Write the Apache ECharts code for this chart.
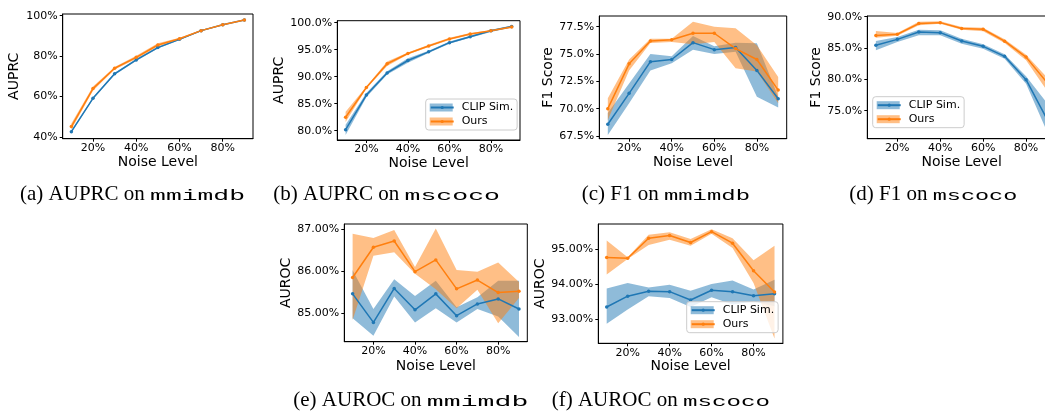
<!DOCTYPE html>
<html><head><meta charset="utf-8">
<script src="https://cdn.jsdelivr.net/npm/echarts@6/dist/echarts.min.js"></script>
<style>html,body{margin:0;padding:0;background:#fff}#c{width:1045px;height:414px}</style>
</head><body><div id="c"></div>
<script>
// ---------- data ----------
const noise = [10,20,30,40,50,60,70,80,90];
const xTicks = [20,40,60,80];
const seriesNames = ['CLIP Sim.', 'Ours'];

// (a) AUPRC on mmimdb
const aClip   = [42.6,59.1,71.2,78.1,84.2,88.3,92.6,95.5,97.9];
const aClipLo = [42.0,58.6,70.7,77.6,83.8,88.0,92.3,95.3,97.7];
const aClipHi = [43.2,59.6,71.7,78.6,84.6,88.6,92.9,95.7,98.1];
const aOurs   = [45.1,63.9,74.0,79.4,85.5,88.6,92.6,95.5,97.9];
const aOursLo = [43.6,62.9,73.4,78.6,84.7,88.1,92.3,95.3,97.7];
const aOursHi = [46.6,64.9,74.6,80.2,86.3,89.1,92.9,95.7,98.1];
const aTicks  = [40,60,80,100];

// (b) AUPRC on mscoco
const bClip   = [80.2,86.6,90.7,93.0,94.6,96.3,97.4,98.5,99.3];
const bClipLo = [79.2,86.2,90.4,92.6,94.4,96.1,97.2,98.3,99.1];
const bClipHi = [81.1,87.0,91.0,93.4,94.8,96.5,97.6,98.7,99.5];
const bOurs   = [82.5,88.0,92.4,94.3,95.7,97.0,97.9,98.5,99.2];
const bOursLo = [81.6,87.8,92.0,94.1,95.5,96.8,97.7,98.4,99.0];
const bOursHi = [83.5,88.2,92.8,94.5,95.9,97.2,98.1,98.6,99.4];
const bTicks  = [80,85,90,95,100];

// (c) F1 on mmimdb
const cClip   = [68.57,71.4,74.3,74.5,76.04,75.4,75.6,73.5,70.9];
const cClipLo = [67.6,70.5,73.5,74.15,75.4,75.0,75.2,71.1,70.1];
const cClipHi = [69.6,72.3,75.0,74.8,76.65,75.7,76.04,75.98,71.1];
const cOurs   = [70.0,74.1,76.2,76.3,76.9,76.9,75.5,74.5,71.7];
const cOursLo = [68.96,73.5,76.0,76.1,75.9,76.1,73.7,73.4,70.5];
const cOursHi = [70.95,74.5,76.4,76.4,77.96,77.5,77.35,75.8,72.9];
const cTicks  = [67.5,70,72.5,75,77.5];

// (d) F1 on mscoco
const dClip   = [85.43,86.38,87.55,87.45,86.12,85.27,83.67,79.95,73.5];
const dClipLo = [84.63,85.96,87.02,87.02,85.69,84.89,83.3,79.31,71.5];
const dClipHi = [86.12,86.76,87.93,87.82,86.49,85.59,83.99,80.48,76.1];
const dOurs   = [87.0,87.2,88.9,89.05,88.1,88.0,86.1,83.55,79.4];
const dOursLo = [86.65,86.97,88.62,88.88,87.93,87.66,85.8,83.03,78.1];
const dOursHi = [87.71,87.39,89.2,89.26,88.35,88.24,86.38,83.94,80.2];
const dTicks  = [75,80,85,90];

// (e) AUROC on mmimdb
const eClip   = [85.46,84.78,85.59,85.08,85.46,84.94,85.22,85.34,85.1];
const eClipLo = [84.88,84.46,85.4,84.78,85.12,84.78,85.1,84.92,84.43];
const eClipHi = [86.02,85.1,85.81,85.41,85.77,85.14,85.38,85.77,85.77];
const eOurs   = [85.85,86.57,86.72,85.99,86.27,85.58,85.79,85.49,85.52];
const eOursLo = [84.84,86.37,86.45,85.94,85.57,85.12,85.56,84.76,85.36];
const eOursHi = [86.89,86.79,86.98,86.1,87.02,86.03,85.99,86.21,85.74];
const eTicks  = [85,86,87];

// (f) AUROC on mscoco
const fClip   = [93.34,93.65,93.79,93.78,93.54,93.82,93.78,93.66,93.72];
const fClipLo = [92.86,93.27,93.65,93.6,93.34,93.62,93.41,93.5,93.36];
const fClipHi = [93.87,94.03,93.9,93.98,93.81,94.0,94.1,93.84,94.12];
const fOurs   = [94.76,94.74,95.31,95.39,95.19,95.5,95.17,94.38,93.77];
const fOursLo = [94.27,94.72,95.12,95.27,95.1,95.44,95.03,94.03,92.44];
const fOursHi = [95.25,94.77,95.41,95.48,95.29,95.57,95.31,94.68,95.1];
const fTicks  = [93,94,95];

const yNames = ['AUPRC','AUPRC','F1 Score','F1 Score','AUROC','AUROC'];
const xName = 'Noise Level';
const capLabels = ['(a) AUPRC on ','(b) AUPRC on ','(c) F1 on ','(d) F1 on ','(e) AUROC on ','(f) AUROC on '];
const capCodes  = ['mmimdb','mscoco','mmimdb','mscoco','mmimdb','mscoco'];

// ---------- layout / style ----------
const BLUE = '#1f77b4', ORANGE = '#ff7f0e';
const BLUE_A = 'rgba(31,119,180,0.5)', ORANGE_A = 'rgba(255,127,14,0.5)';
const panels = [
  {d:[aClip,aClipLo,aClipHi,aOurs,aOursLo,aOursHi], ticks:aTicks, dec:0, L:{left:62.7, top:14,   width:190.3, height:124.7, yMin:39.1,  yMax:100.84, yGap:41, xGap:16.5}},
  {d:[bClip,bClipLo,bClipHi,bOurs,bOursLo,bOursHi], ticks:bTicks, dec:1, L:{left:337.3,top:20.7, width:182.7, height:119.3, yMin:78.28, yMax:100.37, yGap:45, xGap:15.7}},
  {d:[cClip,cClipLo,cClipHi,cOurs,cOursLo,cOursHi], ticks:cTicks, dec:1, L:{left:599.3,top:16,   width:187.4, height:122.7, yMin:67.25, yMax:78.48,  yGap:42, xGap:17}},
  {d:[dClip,dClipLo,dClipHi,dOurs,dOursLo,dOursHi], ticks:dTicks, dec:1, L:{left:867.3,top:16,   width:188.8, height:122.7, yMin:70.53, yMax:90.11,  yGap:42, xGap:17}},
  {d:[eClip,eClipLo,eClipHi,eOurs,eOursLo,eOursHi], ticks:eTicks, dec:2, L:{left:344.3,top:224,  width:183,   height:117.7, yMin:84.32, yMax:87.125, yGap:47, xGap:17.3}},
  {d:[fClip,fClipLo,fClipHi,fOurs,fOursLo,fOursHi], ticks:fTicks, dec:2, L:{left:598.3,top:224,  width:184.6, height:119.3, yMin:92.3,  yMax:95.72,  yGap:47, xGap:15.4}}
];
const legendPos = [null, {left:425.7, top:99}, null, {left:872.7, top:96.7}, null, {left:686.7, top:301.7}];
const capPos = [
  {x:20, y:194.5, end:245}, {x:273.3, y:194.5, end:500}, {x:581.7, y:194.5, end:750},
  {x:849.3, y:194.5, end:1017.3}, {x:293.3, y:400.5, end:528.3}, {x:551.7, y:400.5, end:770}
];

const FONT = 'DejaVu Sans';
const grids = [], xAxes = [], yAxes = [], series = [], legends = [];

function pairs(ys){ return noise.map((x,j)=>[x, ys[j]]); }
function band(i, lo, hi, fill){
  series.push({type:'custom', xAxisIndex:i, yAxisIndex:i, clip:true, silent:true, z:1,
    data: noise.map((x,j)=>[x, lo[j], hi[j]]),
    encode:{x:0, y:[1,2]},
    renderItem:(params, api)=>{
      if (params.dataIndex !== 0) return null;
      const pts = [];
      for (let j=0;j<noise.length;j++) pts.push(api.coord([noise[j], hi[j]]));
      for (let j=noise.length-1;j>=0;j--) pts.push(api.coord([noise[j], lo[j]]));
      return {type:'polygon', shape:{points:pts}, style:{fill, stroke:null}};
    }});
}
function line(i, name, ys, color){
  series.push({type:'line', name, xAxisIndex:i, yAxisIndex:i, data:pairs(ys),
    symbol:'circle', symbolSize:3.5, showSymbol:true, showAllSymbol:true,
    lineStyle:{color, width:1.5}, itemStyle:{color}, z:3, silent:true});
}

const legendCommon = {orient:'vertical', selectedMode:false, padding:[3,5,3,4], itemGap:3, itemWidth:23};
panels.forEach((p,i)=>{
  const L = p.L;
  grids.push({left:L.left, top:L.top, width:L.width, height:L.height, outerBoundsMode:'none', containLabel:false,
    show:true, borderColor:'#000', borderWidth:1, backgroundColor:'transparent'});
  xAxes.push({gridIndex:i, type:'value', min:6, max:94,
    axisLine:{onZero:false, lineStyle:{color:'#000', width:1}},
    axisTick:{customValues:xTicks, length:3, lineStyle:{color:'#000'}},
    axisLabel:{customValues:xTicks, formatter:v=>v+'%', color:'#000', fontSize:11, fontFamily:FONT, margin:4},
    splitLine:{show:false},
    name:xName, nameLocation:'middle', nameGap:L.xGap,
    nameTextStyle:{fontSize:14, fontFamily:FONT, color:'#000', verticalAlign:'top'}});
  yAxes.push({gridIndex:i, type:'value', min:L.yMin, max:L.yMax,
    axisLine:{show:true, onZero:false, lineStyle:{color:'#000', width:1}},
    axisTick:{show:true, customValues:p.ticks, length:3, lineStyle:{color:'#000'}},
    axisLabel:{customValues:p.ticks, formatter:v=>Number(v).toFixed(p.dec)+'%', color:'#000', fontSize:11, fontFamily:FONT, margin:5},
    splitLine:{show:false},
    name:yNames[i], nameLocation:'middle', nameGap:L.yGap,
    nameTextStyle:{fontSize:14, fontFamily:FONT, color:'#000'}});
  const [c, cLo, cHi, o, oLo, oHi] = p.d;
  band(i, cLo, cHi, BLUE_A);
  band(i, oLo, oHi, ORANGE_A);
  line(i, seriesNames[0], c, BLUE);
  line(i, seriesNames[1], o, ORANGE);
  if (legendPos[i]) {
    // patch layer (band colours) with the legend frame
    legends.push(Object.assign({}, legendCommon, {left:legendPos[i].left, top:legendPos[i].top, z:4,
      itemHeight:8,
      data:[{name:seriesNames[0], icon:'rect', itemStyle:{color:BLUE_A, borderWidth:0}},
            {name:seriesNames[1], icon:'rect', itemStyle:{color:ORANGE_A, borderWidth:0}}],
      textStyle:{fontSize:11, fontFamily:FONT, color:'rgba(0,0,0,0)', padding:[0,0,0,3]},
      backgroundColor:'rgba(255,255,255,0.8)', borderColor:'#cccccc', borderWidth:1, borderRadius:3}));
    // line + marker layer with labels
    legends.push(Object.assign({}, legendCommon, {left:legendPos[i].left, top:legendPos[i].top, z:5,
      itemHeight:4, data:seriesNames,
      textStyle:{fontSize:11, fontFamily:FONT, color:'#000', padding:[0,0,0,3]},
      backgroundColor:'transparent', borderWidth:0}));
  }
});

// captions
const ctx = document.createElement('canvas').getContext('2d');
const graphics = [];
const SERIF_PX = 21, MONO_PX = 15.5;
capLabels.forEach((lab,i)=>{
  const P = capPos[i];
  ctx.font = SERIF_PX + 'px "Liberation Serif"';
  const sw = ctx.measureText(lab).width;
  ctx.font = MONO_PX + 'px "Liberation Mono"';
  const mw = ctx.measureText(capCodes[i]).width;
  const s = Math.max(0.8, (P.end - P.x - sw) / mw);
  graphics.push({type:'text', x:P.x, y:P.y, silent:true,
    style:{text:lab, fontSize:SERIF_PX, fontFamily:'Liberation Serif', fill:'#000', verticalAlign:'middle', align:'left'}});
  graphics.push({type:'text', x:P.x+sw, y:P.y+1.5, scaleX:s, silent:true,
    style:{text:capCodes[i], fontSize:MONO_PX, fontFamily:'Liberation Mono', fill:'#000', verticalAlign:'middle', align:'left'}});
});

const chart = echarts.init(document.getElementById('c'), null, {renderer:'canvas'});
chart.setOption({
  animation:false,
  backgroundColor:'#fff',
  grid:grids, xAxis:xAxes, yAxis:yAxes, series, legend:legends, graphic:graphics
});
</script></body></html>
